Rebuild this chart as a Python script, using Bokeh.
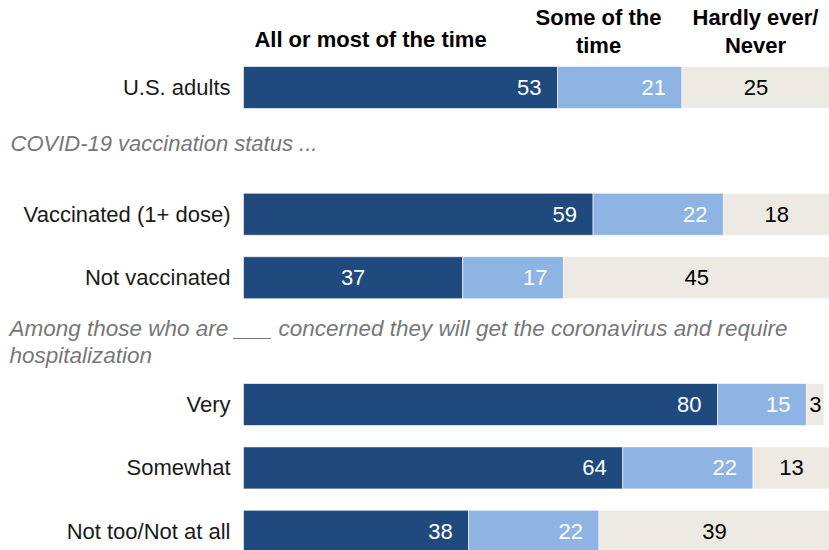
from bokeh.plotting import figure
from bokeh.models import Range1d
from bokeh.core.properties import value
from bokeh.embed import file_html
from bokeh.resources import INLINE

# ---- data ----
categories = ["U.S. adults", "Vaccinated (1+ dose)", "Not vaccinated",
              "Very", "Somewhat", "Not too/Not at all"]
all_most = [53, 59, 37, 80, 64, 38]
some_time = [21, 22, 17, 15, 22, 22]
hardly_never = [25, 18, 45, 3, 13, 39]
first_label_centered = [False, False, True, False, False, False]
series_names = ["All or most of the time", "Some of the time", "Hardly ever/Never"]

# ---- layout (positions) ----
row_pos = [0, 2, 3, 5, 6, 7]
PX_X = 5.925   # px per percentage point
PX_Y = 63.4    # px per row unit
W, H = 829, 550
x0 = -243 / PX_X
y_top = -87 / PX_Y

DARK = "#204A7D"
LIGHT = "#8EB4E3"
BEIGE = "#EDEAE3"
FONT = value("Liberation Sans")

p = figure(width=W, height=H, output_backend="svg", toolbar_location=None,
           x_range=Range1d(x0, x0 + W / PX_X),
           y_range=Range1d(y_top + H / PX_Y, y_top),
           min_border=0, min_border_left=0, min_border_right=0,
           min_border_top=0, min_border_bottom=0)
p.axis.visible = False
p.grid.visible = False
p.outline_line_color = None
p.background_fill_color = "white"
p.border_fill_color = "white"

bh = 42 / PX_Y
a = all_most
s = [a[i] + some_time[i] for i in range(len(a))]
t = [s[i] + hardly_never[i] for i in range(len(a))]

p.hbar(y=row_pos, left=0, right=a, height=bh, fill_color=DARK, line_color="white", line_width=0.6)
p.hbar(y=row_pos, left=a, right=s, height=bh, fill_color=LIGHT, line_color="white", line_width=0.6)
p.hbar(y=row_pos, left=s, right=t, height=bh, fill_color=BEIGE, line_color="white", line_width=0.6)

# value labels
r_x, r_y, r_t, r_c = [], [], [], []
c_x, c_y, c_t, c_c = [], [], [], []
for i in range(len(a)):
    if first_label_centered[i]:
        c_x.append(a[i] / 2); c_y.append(row_pos[i]); c_t.append(str(all_most[i])); c_c.append("white")
    else:
        r_x.append(a[i]); r_y.append(row_pos[i]); r_t.append(str(all_most[i])); r_c.append("white")
    r_x.append(s[i]); r_y.append(row_pos[i]); r_t.append(str(some_time[i])); r_c.append("white")
    c_x.append(s[i] + hardly_never[i] / 2); c_y.append(row_pos[i]); c_t.append(str(hardly_never[i])); c_c.append("black")

p.text(x=r_x, y=r_y, text=r_t, text_color=r_c, text_align="right", text_baseline="middle",
       x_offset=-16, text_font=FONT, text_font_size="22px")
p.text(x=c_x, y=c_y, text=c_t, text_color=c_c, text_align="center", text_baseline="middle",
       text_font=FONT, text_font_size="22px")

# category labels
p.text(x=[(230 - 243) / PX_X] * len(categories), y=row_pos, text=categories,
       text_align="right", text_baseline="middle", text_color="#1a1a1a",
       text_font=FONT, text_font_size="22px")

# group notes
notes = ["COVID-19 vaccination status ...",
         "Among those who are ___ concerned they will get the coronavirus and require",
         "hospitalization"]
p.text(x=[(10 - 243) / PX_X], y=[0.89], text=[notes[0]], text_align="left",
       text_baseline="middle", text_color="#777777", text_font=FONT,
       text_font_size="22px", text_font_style="italic")
p.text(x=[(9 - 243) / PX_X] * 2, y=[3.80, 4.23], text=notes[1:], text_align="left",
       text_baseline="middle", text_color="#777777", text_font=FONT,
       text_font_size="22.5px", text_font_style="italic")

# column headers
hx = [(370 - 243) / PX_X, (598 - 243) / PX_X, (598 - 243) / PX_X,
      (755 - 243) / PX_X, (755 - 243) / PX_X]
hy = [-0.75, -1.10, -0.67, -1.10, -0.67]
ht = ["All or most of the time", "Some of the", "time", "Hardly ever/", "Never"]
p.text(x=hx, y=hy, text=ht, text_align="center", text_baseline="middle",
       text_color="black", text_font=FONT, text_font_size="22px", text_font_style="bold")

open("out.html", "w").write(file_html(p, INLINE))
